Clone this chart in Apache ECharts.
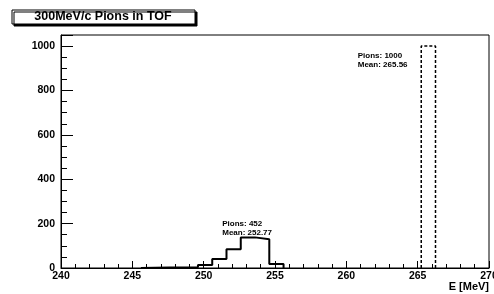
<!DOCTYPE html>
<html>
<head>
<meta charset="utf-8">
<script src="https://cdn.jsdelivr.net/npm/echarts@6/dist/echarts.min.js"></script>
<style>
  html, body { margin: 0; padding: 0; background: #fff; }
  #main { width: 494px; height: 294px; }
</style>
</head>
<body>
<div id="main"></div>
<script>
// bin edges (MeV) and counts
var pionEdges = [245.6, 246.6, 247.6, 248.6, 249.6, 250.6, 251.6, 252.6, 253.6, 254.6, 255.6];
var pionCounts = [1, 2, 2, 3, 14, 40, 84, 138, 130, 18];
var refEdges = [265.25, 266.25];
var refCounts = [1000];

var statsPions = ['Pions: 452', 'Mean: 252.77'];
var statsRef = ['Pions: 1000', 'Mean: 265.56'];

var titleText = '300MeV/c Pions in TOF';
var xName = 'E [MeV]';

// step outline from edges + counts
function stepData(edges, counts) {
    var pts = [[edges[0], 0]];
    for (var i = 0; i < counts.length; i++) {
        pts.push([edges[i], counts[i]]);
    }
    pts.push([edges[edges.length - 1], 0]);
    return pts;
}

var font = 'Liberation Sans, Arial, sans-serif';
var chart = echarts.init(document.getElementById('main'));

var option = {
    animation: false,
    grid: {
        left: 61,
        right: 5,
        top: 35,
        bottom: 26,
        containLabel: false,
        outerBoundsMode: 'none',
        show: true,
        borderColor: '#000',
        borderWidth: 1,
        backgroundColor: 'transparent'
    },
    graphic: [
        {
            type: 'rect',
            shape: { x: 12, y: 10, width: 183, height: 14 },
            style: {
                fill: '#fff',
                stroke: '#000',
                lineWidth: 1,
                shadowColor: '#000',
                shadowOffsetX: 2,
                shadowOffsetY: 2,
                shadowBlur: 0
            }
        },
        {
            type: 'text',
            x: 103,
            y: 17,
            style: {
                text: titleText,
                font: 'bold 12.5px ' + font,
                fill: '#000',
                textAlign: 'center',
                textVerticalAlign: 'middle'
            }
        },
        {
            // axis title, ROOT style: right aligned under the axis end
            type: 'text',
            right: 5,
            top: 281,
            style: {
                text: xName,
                font: 'bold 11px ' + font,
                fill: '#000'
            }
        }
    ],
    xAxis: {
        type: 'value',
        min: 240,
        max: 270,
        interval: 5,
        axisLine: { lineStyle: { color: '#000', width: 1 } },
        axisTick: { inside: true, length: 7, lineStyle: { color: '#000' } },
        minorTick: { show: true, splitNumber: 5, length: 4, lineStyle: { color: '#000' } },
        splitLine: { show: false },
        axisLabel: {
            fontFamily: font,
            fontWeight: 'bold',
            fontSize: 10.5,
            color: '#000',
            margin: 3
        }
    },
    yAxis: {
        type: 'value',
        min: 0,
        max: 1050,
        interval: 200,
        axisLine: { show: true, lineStyle: { color: '#000', width: 1 } },
        axisTick: { show: true, inside: true, length: 12, lineStyle: { color: '#000' } },
        minorTick: { show: true, splitNumber: 4, length: 6, lineStyle: { color: '#000' } },
        splitLine: { show: false },
        axisLabel: {
            fontFamily: font,
            fontWeight: 'bold',
            fontSize: 10.5,
            color: '#000',
            margin: 6,
            showMaxLabel: false,
            formatter: function(v) {
                return String(v);
            }
        }
    },
    series: [
        {
            name: 'pions',
            type: 'line',
            step: 'end',
            symbol: 'none',
            data: stepData(pionEdges, pionCounts),
            lineStyle: { color: '#000', width: 2 },
            markPoint: {
                symbol: 'rect',
                symbolSize: 0,
                data: [{ coord: [251.3, 177] }],
                label: {
                    show: true,
                    position: 'right',
                    distance: 0,
                    formatter: statsPions.join('\n'),
                    fontFamily: font,
                    fontWeight: 'bold',
                    fontSize: 8,
                    lineHeight: 9,
                    color: '#000'
                }
            }
        },
        {
            name: 'ref',
            type: 'line',
            step: 'end',
            symbol: 'none',
            data: stepData(refEdges, refCounts),
            lineStyle: { color: '#000', width: 1.5, type: [3, 2] },
            markPoint: {
                symbol: 'rect',
                symbolSize: 0,
                data: [{ coord: [260.8, 936] }],
                label: {
                    show: true,
                    position: 'right',
                    distance: 0,
                    formatter: statsRef.join('\n'),
                    fontFamily: font,
                    fontWeight: 'bold',
                    fontSize: 8,
                    lineHeight: 9,
                    color: '#000'
                }
            }
        }
    ]
};

chart.setOption(option);
</script>
</body>
</html>
